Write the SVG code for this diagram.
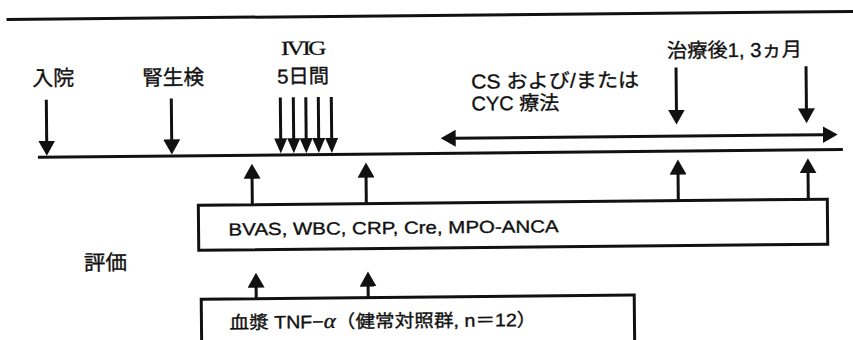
<svg xmlns="http://www.w3.org/2000/svg" width="853" height="340" viewBox="0 0 853 340">
<style>
.t{font-family:"Liberation Sans","Noto Sans CJK JP",sans-serif;fill:#111;stroke:#111;stroke-width:0.35;}
.ln{stroke:#111;stroke-width:3;fill:none;}
.box{stroke:#111;stroke-width:3;fill:#fff;}
</style>
<defs>
<marker id="ah" markerUnits="userSpaceOnUse" markerWidth="18" markerHeight="18" refX="1" refY="8.5" orient="auto-start-reverse"><path d="M0,0 L15,8.5 L0,17 z" fill="#111"/></marker>
<marker id="ahs" markerUnits="userSpaceOnUse" markerWidth="16" markerHeight="14" refX="1" refY="6.5" orient="auto"><path d="M0,0 L15,6.5 L0,13 z" fill="#111"/></marker>
</defs>
<rect width="853" height="340" fill="#fff"/>
<g transform="rotate(-0.55 426 170)">
<g id="connectors">
<line class="ln" x1="8" y1="15.5" x2="860" y2="15.5"/>
<line class="ln" x1="38" y1="153.5" x2="843" y2="153.5"/>
<line class="ln" x1="47" y1="96" x2="47" y2="138" marker-end="url(#ah)"/>
<line class="ln" x1="172" y1="96" x2="172" y2="138" marker-end="url(#ah)"/>
<line class="ln" x1="281" y1="96" x2="281" y2="138" marker-end="url(#ahs)"/>
<line class="ln" x1="294" y1="96" x2="294" y2="138" marker-end="url(#ahs)"/>
<line class="ln" x1="306.5" y1="96" x2="306.5" y2="138" marker-end="url(#ahs)"/>
<line class="ln" x1="319" y1="96" x2="319" y2="138" marker-end="url(#ahs)"/>
<line class="ln" x1="332" y1="96" x2="332" y2="138" marker-end="url(#ahs)"/>
<line class="ln" x1="677" y1="70" x2="677" y2="113" marker-end="url(#ah)"/>
<line class="ln" x1="807" y1="70" x2="807" y2="113" marker-end="url(#ah)"/>
<line class="ln" x1="455" y1="138.5" x2="824" y2="138.5" marker-start="url(#ah)" marker-end="url(#ah)"/>
<line class="ln" x1="252" y1="203" x2="252" y2="176" marker-end="url(#ah)"/>
<line class="ln" x1="366" y1="203" x2="366" y2="176" marker-end="url(#ah)"/>
<line class="ln" x1="678" y1="203" x2="678" y2="176" marker-end="url(#ah)"/>
<line class="ln" x1="808" y1="203" x2="808" y2="176" marker-end="url(#ah)"/>
<line class="ln" x1="255" y1="297" x2="255" y2="285" marker-end="url(#ah)"/>
<line class="ln" x1="367" y1="297" x2="367" y2="285" marker-end="url(#ah)"/>
</g>
<g id="n-admission"><text class="t" x="33" y="82" font-size="21" textLength="42" lengthAdjust="spacingAndGlyphs">入院</text></g>
<g id="n-biopsy"><text class="t" x="143" y="82.5" font-size="21" textLength="62" lengthAdjust="spacingAndGlyphs">腎生検</text></g>
<g id="n-ivig"><text x="282" y="53.5" font-family="Liberation Serif,serif" font-size="20" letter-spacing="-2" fill="#111" stroke="#111" stroke-width="0.3" textLength="43" lengthAdjust="spacingAndGlyphs">IVIG</text><text class="t" x="278" y="82" font-size="20" textLength="52" lengthAdjust="spacingAndGlyphs">5日間</text></g>
<g id="n-cs"><text class="t" x="472" y="89" font-size="20" textLength="168" lengthAdjust="spacingAndGlyphs">CS および/または</text><text class="t" x="472" y="111" font-size="20" textLength="88" lengthAdjust="spacingAndGlyphs">CYC 療法</text></g>
<g id="n-post"><text class="t" x="668" y="60" font-size="20" textLength="135" lengthAdjust="spacingAndGlyphs">治療後1, 3ヵ月</text></g>
<g id="n-eval"><text class="t" x="83" y="267" font-size="21" textLength="43" lengthAdjust="spacingAndGlyphs">評価</text></g>
<g id="n-box1"><rect class="box" x="198" y="203" width="629" height="45"/><text class="t" x="228" y="233.5" font-size="17.5" textLength="330" lengthAdjust="spacingAndGlyphs">BVAS, WBC, CRP, Cre, MPO-ANCA</text></g>
<g id="n-box2"><rect class="box" x="200" y="297" width="433" height="60"/><text class="t" x="228" y="327" font-size="18" textLength="307" lengthAdjust="spacingAndGlyphs">血漿 TNF−<tspan font-family="Liberation Serif,serif" font-style="italic" font-size="21">α</tspan>（健常対照群, n＝12）</text></g>
</g>
</svg>
